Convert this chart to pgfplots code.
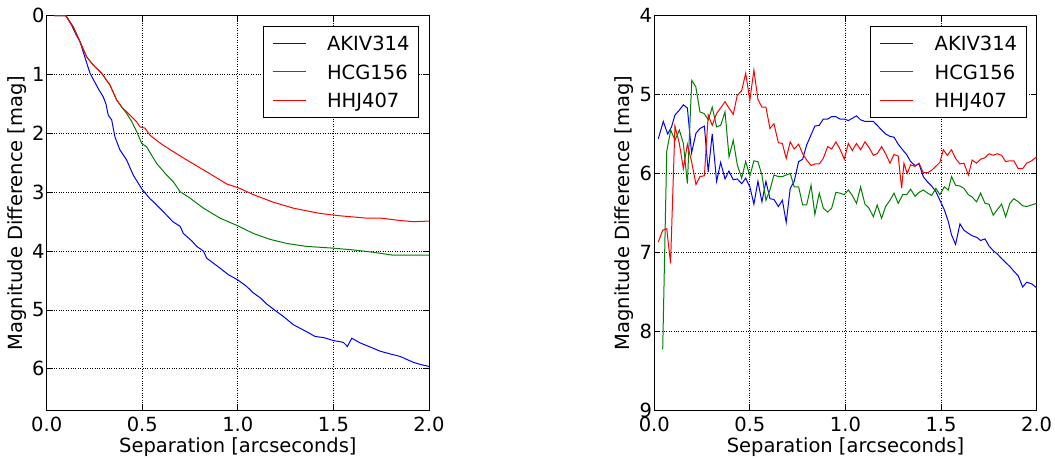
\documentclass[border=0pt]{standalone}
\usepackage{fontspec}
\setmainfont{DejaVu Sans}
\usepackage{pgfplots}
\pgfplotsset{compat=1.18}
\definecolor{mblue}{rgb}{0,0,1}
\definecolor{mgreen}{rgb}{0,0.5,0}
\definecolor{mred}{rgb}{1,0,0}
\newcommand{\ff}{\fontsize{19.5}{22}\selectfont}
\pgfplotsset{
  common/.style={
    scale only axis, width=382.3pt, height=394.3pt,
    xmin=0, xmax=2, y dir=reverse,
    xtick={0,0.5,1,1.5,2}, xticklabels={0.0,0.5,1.0,1.5,2.0},
    grid=major, grid style={black, dotted, line width=0.8pt},
    axis line style={black, line width=1pt},
    tick align=inside, major tick length=6pt, tick style={black, line width=0.8pt},
    xticklabel style={font=\ff, anchor=north, inner sep=0pt, yshift=-7pt},
    yticklabel style={font=\ff, anchor=east, inner sep=0pt, xshift=-2pt},
    every axis x label/.style={at={(axis description cs:0.5,0)}, anchor=center, yshift=-37pt, font=\ff},
    every axis y label/.style={at={(axis description cs:0,0.5)}, xshift=-29.7pt, rotate=90, anchor=center, font=\ff},
    xlabel={Separation [arcseconds]},
    ylabel={Magnitude Difference [mag]},
    legend style={at={(1,1)}, anchor=north east, xshift=-10pt, yshift=-10pt,
      draw=black, line width=1pt, fill=white, inner xsep=9pt, inner ysep=10pt,
      row sep=14.3pt, column sep=21pt, font=\ff,
      nodes={inner sep=0pt, text height=14.3pt, text depth=0pt}},
    legend cell align=left,
    legend image code/.code={\path (0pt,0pt) -- (33pt,0pt); \draw[#1, line width=1pt] (5pt,0pt) -- (33pt,0pt);},
    every axis plot/.append style={line width=1pt, mark=none},
  }
}
\begin{document}
\begin{tikzpicture}
\useasboundingbox (-46.7pt,-48pt) rectangle (1008.3pt,410pt);
\begin{axis}[common, at={(0pt,0pt)}, anchor=south west,
  ymin=0, ymax=6.7, ytick={0,1,2,3,4,5,6}, yticklabels={0,1,2,3,4,5,6}]
\addplot[mblue] coordinates {(0.04,0) (0.10,0) (0.13,0.16) (0.155,0.33) (0.174,0.44) (0.183,0.53) (0.205,0.76) (0.227,0.98) (0.25,1.12) (0.27,1.24) (0.296,1.38) (0.31,1.50) (0.322,1.69) (0.34,1.77) (0.357,2.06) (0.383,2.28) (0.418,2.45) (0.453,2.71) (0.497,2.94) (0.54,3.11) (0.558,3.16) (0.61,3.33) (0.66,3.50) (0.698,3.58) (0.715,3.70) (0.76,3.83) (0.785,3.92) (0.82,4.00) (0.837,4.12) (0.87,4.20) (0.907,4.29) (0.95,4.40) (1.0,4.49) (1.046,4.60) (1.081,4.71) (1.12,4.80) (1.151,4.90) (1.2,5.02) (1.238,5.11) (1.29,5.25) (1.36,5.37) (1.404,5.45) (1.45,5.47) (1.5,5.52) (1.552,5.55) (1.573,5.62) (1.596,5.48) (1.64,5.56) (1.70,5.64) (1.744,5.70) (1.80,5.75) (1.849,5.79) (1.918,5.89) (1.96,5.93) (2.0,5.96)};
\addlegendentry{AKIV314}
\addplot[mgreen] coordinates {(0.04,0) (0.10,0) (0.139,0.19) (0.174,0.44) (0.209,0.70) (0.244,0.84) (0.288,0.98) (0.331,1.18) (0.366,1.43) (0.392,1.55) (0.418,1.66) (0.445,1.80) (0.471,1.97) (0.497,2.17) (0.523,2.23) (0.575,2.51) (0.628,2.71) (0.662,2.82) (0.698,2.99) (0.75,3.10) (0.82,3.27) (0.907,3.44) (1.0,3.57) (1.081,3.70) (1.168,3.80) (1.256,3.87) (1.36,3.92) (1.5,3.95) (1.604,3.98) (1.709,4.02) (1.813,4.07) (1.9,4.07) (2.0,4.07)};
\addlegendentry{HCG156}
\addplot[mred] coordinates {(0.04,0) (0.10,0) (0.139,0.19) (0.174,0.44) (0.209,0.70) (0.244,0.84) (0.288,0.98) (0.331,1.18) (0.366,1.43) (0.392,1.55) (0.436,1.69) (0.47,1.80) (0.488,1.89) (0.514,1.91) (0.54,2.03) (0.6,2.18) (0.662,2.31) (0.732,2.45) (0.82,2.62) (0.907,2.79) (0.942,2.86) (1.0,2.92) (1.081,3.04) (1.186,3.17) (1.29,3.27) (1.43,3.36) (1.535,3.40) (1.674,3.44) (1.75,3.44) (1.849,3.48) (1.92,3.50) (2.0,3.49)};
\addlegendentry{HHJ407}
\end{axis}
\begin{axis}[common, at={(607.6pt,0pt)}, anchor=south west,
  ymin=4, ymax=9, ytick={4,5,6,7,8,9}, yticklabels={4,5,6,7,8,9}]
\addplot[mblue] coordinates {(0.021,5.56) (0.047,5.34) (0.07,5.50) (0.09,5.41) (0.108,5.26) (0.13,5.20) (0.152,5.13) (0.173,5.17) (0.195,5.74) (0.218,5.49) (0.239,5.43) (0.262,5.40) (0.282,5.98) (0.303,5.50) (0.326,6.10) (0.347,5.86) (0.37,6.07) (0.39,5.97) (0.413,6.08) (0.434,6.07) (0.457,6.13) (0.478,6.06) (0.5,6.17) (0.521,6.39) (0.542,6.10) (0.563,6.36) (0.584,6.10) (0.605,6.32) (0.626,6.33) (0.649,6.42) (0.67,6.34) (0.69,6.62) (0.711,6.19) (0.732,6.10) (0.755,5.85) (0.776,5.82) (0.797,5.64) (0.82,5.51) (0.84,5.40) (0.863,5.39) (0.884,5.31) (0.907,5.31) (0.928,5.28) (0.95,5.28) (0.971,5.31) (0.994,5.31) (1.015,5.33) (1.036,5.30) (1.058,5.27) (1.079,5.32) (1.102,5.34) (1.123,5.34) (1.146,5.34) (1.166,5.39) (1.189,5.45) (1.21,5.50) (1.233,5.53) (1.254,5.54) (1.276,5.63) (1.299,5.70) (1.32,5.76) (1.341,5.85) (1.364,5.90) (1.385,5.88) (1.407,6.04) (1.43,6.11) (1.451,6.16) (1.473,6.23) (1.494,6.34) (1.517,6.46) (1.538,6.61) (1.555,6.78) (1.576,6.90) (1.599,6.64) (1.62,6.72) (1.643,6.76) (1.663,6.79) (1.686,6.81) (1.707,6.85) (1.73,6.83) (1.751,6.92) (1.773,6.98) (1.794,7.02) (1.817,7.08) (1.838,7.13) (1.86,7.18) (1.881,7.24) (1.904,7.30) (1.927,7.44) (1.948,7.38) (1.974,7.40) (2.0,7.45)};
\addlegendentry{AKIV314}
\addplot[mgreen] coordinates {(0.044,8.23) (0.065,5.72) (0.086,5.45) (0.108,5.58) (0.131,5.45) (0.152,5.62) (0.173,6.13) (0.196,4.82) (0.217,4.90) (0.239,5.22) (0.26,5.24) (0.283,5.32) (0.303,5.16) (0.326,5.41) (0.347,5.39) (0.37,5.22) (0.391,5.79) (0.413,5.58) (0.434,5.89) (0.457,6.06) (0.478,5.85) (0.5,6.03) (0.521,5.84) (0.542,5.85) (0.563,6.02) (0.584,6.34) (0.605,6.21) (0.626,6.02) (0.649,6.04) (0.67,6.04) (0.69,6.02) (0.711,6.00) (0.732,6.17) (0.755,6.17) (0.776,6.40) (0.797,6.40) (0.82,6.15) (0.84,6.52) (0.863,6.25) (0.884,6.44) (0.907,6.49) (0.928,6.44) (0.95,6.24) (0.971,6.25) (0.994,6.27) (1.015,6.21) (1.036,6.28) (1.058,6.38) (1.079,6.17) (1.102,6.39) (1.123,6.44) (1.146,6.55) (1.166,6.40) (1.189,6.57) (1.21,6.42) (1.233,6.34) (1.254,6.25) (1.276,6.38) (1.299,6.27) (1.32,6.27) (1.341,6.20) (1.364,6.29) (1.385,6.24) (1.407,6.21) (1.43,6.25) (1.451,6.28) (1.473,6.19) (1.494,6.27) (1.517,6.17) (1.538,6.21) (1.555,6.04) (1.576,6.15) (1.599,6.16) (1.62,6.19) (1.643,6.27) (1.663,6.30) (1.686,6.36) (1.707,6.25) (1.73,6.38) (1.751,6.39) (1.773,6.53) (1.794,6.46) (1.817,6.39) (1.838,6.55) (1.86,6.38) (1.881,6.32) (1.904,6.36) (1.927,6.41) (1.948,6.42) (1.974,6.40) (2.0,6.38)};
\addlegendentry{HCG156}
\addplot[mred] coordinates {(0.021,6.87) (0.044,6.72) (0.065,6.70) (0.085,7.14) (0.108,5.40) (0.131,5.62) (0.152,5.94) (0.173,5.63) (0.195,5.85) (0.218,6.14) (0.239,6.04) (0.262,6.03) (0.282,5.26) (0.303,5.39) (0.326,5.24) (0.347,5.17) (0.37,5.09) (0.39,5.17) (0.413,5.25) (0.434,5.01) (0.457,4.95) (0.478,4.73) (0.5,5.07) (0.521,4.69) (0.542,5.06) (0.563,5.16) (0.584,5.16) (0.605,5.43) (0.626,5.37) (0.649,5.61) (0.67,5.62) (0.69,5.81) (0.711,5.60) (0.732,5.69) (0.755,5.63) (0.776,5.75) (0.797,5.83) (0.82,5.90) (0.84,5.88) (0.863,5.88) (0.884,5.81) (0.907,5.66) (0.928,5.69) (0.95,5.60) (0.971,5.69) (0.994,5.82) (1.015,5.62) (1.036,5.71) (1.058,5.62) (1.079,5.70) (1.102,5.60) (1.123,5.67) (1.146,5.77) (1.166,5.75) (1.189,5.66) (1.21,5.75) (1.233,5.87) (1.254,5.76) (1.276,5.78) (1.294,6.19) (1.306,5.87) (1.323,6.00) (1.341,5.89) (1.364,5.91) (1.385,5.87) (1.407,5.99) (1.43,5.99) (1.451,5.96) (1.473,5.91) (1.494,5.86) (1.512,5.70) (1.533,5.77) (1.555,5.70) (1.576,5.81) (1.599,5.88) (1.62,5.87) (1.643,6.02) (1.663,5.83) (1.686,5.87) (1.707,5.82) (1.73,5.80) (1.751,5.75) (1.773,5.77) (1.794,5.75) (1.817,5.77) (1.838,5.85) (1.86,5.84) (1.881,5.84) (1.904,5.94) (1.927,5.94) (1.948,5.87) (1.974,5.84) (2.0,5.79)};
\addlegendentry{HHJ407}
\end{axis}
\end{tikzpicture}
\end{document}
